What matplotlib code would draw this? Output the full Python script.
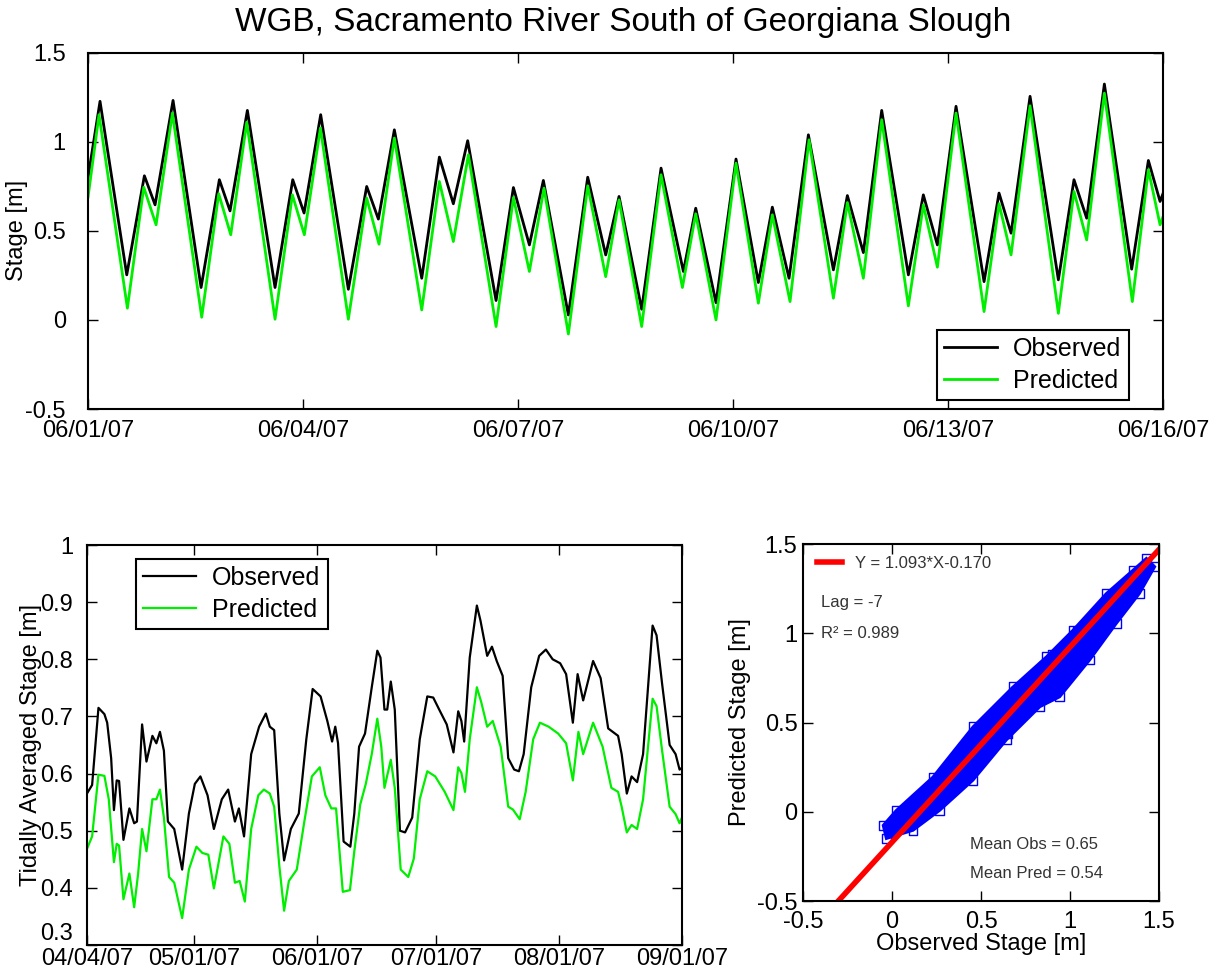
import numpy as np
import matplotlib
matplotlib.use("Agg")
from matplotlib import pyplot as plt

plt.rcParams['font.family'] = ['Liberation Sans', 'DejaVu Sans']

TITLE = "WGB, Sacramento River South of Georgiana Slough"

# 15-minute stage, 06/01/07 - 06/16/07 (days since 06/01 00:00, turning points)
obs_t = [0, 0.167, 0.540, 0.786, 0.935, 1.186, 1.577, 1.832, 1.981, 2.223,
         2.609, 2.856, 3.014, 3.246, 3.632, 3.888, 4.051, 4.274, 4.656, 4.902,
         5.097, 5.297, 5.693, 5.935, 6.158, 6.353, 6.702, 6.972, 7.223, 7.409,
         7.725, 7.995, 8.307, 8.479, 8.762, 9.041, 9.353, 9.548, 9.781, 10.051,
         10.400, 10.595, 10.818, 11.074, 11.446, 11.655, 11.851, 12.111, 12.502, 12.711,
         12.879, 13.144, 13.539, 13.757, 13.934, 14.181, 14.562, 14.795, 14.958, 15.0]
obs_stage = [0.80, 1.227, 0.253, 0.809, 0.646, 1.232, 0.182, 0.787, 0.612, 1.176,
             0.182, 0.787, 0.600, 1.152, 0.172, 0.749, 0.566, 1.067, 0.234, 0.914,
             0.652, 1.006, 0.109, 0.743, 0.421, 0.783, 0.028, 0.801, 0.365, 0.693,
             0.060, 0.852, 0.272, 0.627, 0.097, 0.903, 0.210, 0.633, 0.234, 1.039,
             0.281, 0.698, 0.378, 1.176, 0.253, 0.702, 0.421, 1.199, 0.215, 0.712,
             0.487, 1.255, 0.225, 0.787, 0.571, 1.324, 0.285, 0.895, 0.665, 0.71]
pred_t = [0, 0.153, 0.549, 0.777, 0.949, 1.177, 1.586, 1.823, 1.991, 2.214,
          2.609, 2.851, 3.018, 3.242, 3.632, 3.888, 4.060, 4.274, 4.656, 4.902,
          5.097, 5.307, 5.693, 5.935, 6.158, 6.362, 6.702, 6.972, 7.223, 7.409,
          7.725, 7.995, 8.293, 8.479, 8.762, 9.041, 9.353, 9.548, 9.795, 10.060,
          10.400, 10.595, 10.818, 11.074, 11.446, 11.655, 11.851, 12.111, 12.502, 12.711,
          12.879, 13.144, 13.539, 13.757, 13.934, 14.181, 14.571, 14.795, 14.958, 15.0]
pred_stage = [0.69, 1.152, 0.066, 0.745, 0.534, 1.161, 0.015, 0.708, 0.478, 1.110,
              0.004, 0.702, 0.478, 1.077, 0.004, 0.684, 0.425, 1.021, 0.056, 0.777,
              0.440, 0.927, -0.037, 0.687, 0.272, 0.740, -0.079, 0.753, 0.243, 0.674,
              -0.037, 0.815, 0.182, 0.596, 0.000, 0.880, 0.094, 0.590, 0.103, 1.011,
              0.122, 0.659, 0.234, 1.124, 0.079, 0.646, 0.296, 1.161, 0.047, 0.652,
              0.365, 1.202, 0.037, 0.721, 0.449, 1.273, 0.103, 0.843, 0.534, 0.58]
top_ticks = [0, 3, 6, 9, 12, 15]
top_ticklabels = ["06/01/07", "06/04/07", "06/07/07", "06/10/07", "06/13/07", "06/16/07"]

# tidally averaged stage, days since 04/04/07
avg_obs_t = [0, 1.3, 2.9, 4.4, 5.1, 6.1, 6.8, 7.5, 8.1, 9.2, 10.7, 11.9, 12.6, 13.9,
             15.0, 16.5, 17.5, 18.4, 19.4, 20.4, 22.0, 24.0, 25.7, 27.2, 28.6, 30.4,
             32.0, 34.0, 35.6, 37.3, 38.3, 39.6, 41.4, 43.4, 45.1, 46.1, 47.2, 48.5,
             49.7, 51.4, 53.4, 55.3, 56.9, 58.9, 60.6, 61.8, 62.6, 63.3, 64.7, 66.4,
             67.4, 68.6, 70.1, 71.8, 73.2, 74.0, 75.0, 75.7, 76.6, 77.6, 78.9, 80.2,
             82.0, 83.9, 85.8, 87.3, 88.8, 90.7, 92.4, 93.6, 94.4, 95.1, 96.5, 98.3,
             99.2, 100.9, 102.1, 103.3, 104.8, 106.2, 107.7, 108.9, 110.1, 112.0,
             114.0, 115.7, 117.4, 119.3, 120.8, 122.5, 123.7, 125.1, 127.6, 129.5,
             131.4, 133.9, 134.8, 136.1, 137.3, 138.7, 140.2, 142.6, 143.6, 145.0,
             146.9, 148.4, 149.4, 150.0]
avg_obs = [0.565, 0.58, 0.715, 0.704, 0.689, 0.627, 0.536, 0.588, 0.587, 0.484, 0.539,
           0.513, 0.516, 0.686, 0.621, 0.666, 0.653, 0.673, 0.64, 0.516, 0.503, 0.432,
           0.53, 0.582, 0.595, 0.562, 0.503, 0.555, 0.572, 0.516, 0.539, 0.49, 0.634,
           0.682, 0.705, 0.682, 0.676, 0.53, 0.448, 0.503, 0.53, 0.66, 0.748, 0.735,
           0.692, 0.656, 0.682, 0.653, 0.481, 0.472, 0.53, 0.647, 0.67, 0.751, 0.815,
           0.803, 0.712, 0.712, 0.761, 0.712, 0.5, 0.497, 0.523, 0.66, 0.735, 0.733,
           0.712, 0.686, 0.637, 0.709, 0.692, 0.656, 0.803, 0.894, 0.868, 0.806, 0.822,
           0.797, 0.771, 0.627, 0.607, 0.604, 0.634, 0.751, 0.806, 0.817, 0.8, 0.793,
           0.774, 0.689, 0.774, 0.728, 0.797, 0.767, 0.679, 0.666, 0.634, 0.565, 0.595,
           0.585, 0.634, 0.859, 0.842, 0.757, 0.65, 0.634, 0.607, 0.61]
avg_pred_t = [0, 1.3, 2.9, 4.4, 5.5, 6.8, 7.5, 8.1, 9.2, 10.7, 11.9, 12.9, 13.9, 15.0,
              16.5, 17.5, 18.4, 19.4, 20.7, 22.0, 24.0, 25.7, 27.6, 29.1, 30.6, 32.0,
              34.4, 35.9, 37.3, 38.5, 39.8, 41.4, 43.2, 44.6, 46.1, 47.2, 48.5, 49.7,
              50.9, 52.9, 54.8, 56.7, 58.7, 60.1, 61.6, 62.8, 64.5, 66.3, 67.4, 68.9,
              70.3, 71.8, 73.2, 74.2, 75.0, 76.6, 77.6, 79.1, 81.0, 82.4, 83.9, 85.8,
              87.8, 90.2, 92.4, 93.6, 94.4, 95.3, 96.5, 98.3, 99.4, 100.9, 102.3, 104.3,
              106.2, 107.4, 109.1, 110.6, 112.5, 114.2, 116.4, 118.8, 120.8, 122.5,
              123.9, 125.1, 127.6, 130.0, 132.2, 133.9, 134.8, 136.1, 137.3, 138.7,
              140.2, 142.6, 143.6, 145.0, 146.9, 148.4, 149.4, 150.0]
avg_pred = [0.468, 0.49, 0.598, 0.596, 0.555, 0.445, 0.477, 0.474, 0.38, 0.425, 0.366,
            0.425, 0.503, 0.464, 0.555, 0.555, 0.572, 0.523, 0.419, 0.409, 0.347, 0.432,
            0.472, 0.461, 0.458, 0.399, 0.49, 0.477, 0.409, 0.412, 0.376, 0.503, 0.562,
            0.572, 0.565, 0.542, 0.438, 0.36, 0.412, 0.432, 0.516, 0.595, 0.611, 0.562,
            0.539, 0.539, 0.393, 0.396, 0.464, 0.546, 0.582, 0.634, 0.696, 0.647, 0.575,
            0.624, 0.575, 0.432, 0.419, 0.451, 0.555, 0.604, 0.595, 0.568, 0.536, 0.611,
            0.601, 0.568, 0.66, 0.751, 0.725, 0.682, 0.692, 0.647, 0.542, 0.537, 0.52,
            0.568, 0.66, 0.689, 0.682, 0.67, 0.653, 0.588, 0.673, 0.634, 0.689, 0.647,
            0.575, 0.568, 0.542, 0.497, 0.51, 0.503, 0.555, 0.731, 0.718, 0.64, 0.542,
            0.529, 0.513, 0.523]
avg_ticks = [0, 27, 58, 88, 119, 150]
avg_ticklabels = ["04/04/07", "05/01/07", "06/01/07", "07/01/07", "08/01/07", "09/01/07"]

# outline of the observed/predicted point cloud
cloud_upper_x = [-0.05, 0.024, 0.23, 0.455, 0.68, 0.867, 1.017, 1.204, 1.354, 1.429]
cloud_upper_y = [-0.076, 0.008, 0.195, 0.476, 0.70, 0.868, 1.018, 1.223, 1.354, 1.42]
cloud_lower_x = [-0.032, 0.118, 0.268, 0.455, 0.642, 0.83, 0.942, 1.11, 1.26, 1.39, 1.476]
cloud_lower_y = [-0.15, -0.104, 0.008, 0.177, 0.402, 0.588, 0.644, 0.85, 1.055, 1.223, 1.373]
fit_slope = 1.093
fit_intercept = -0.170
lag = -7
r_squared = 0.989
mean_obs = 0.65
mean_pred = 0.54

BLACK = 'black'
GREEN = '#00ee00'
FS = 17


def style_axes(ax, xpad=4, ypad=4):
    for s in ax.spines.values():
        s.set_linewidth(1.5)
    ax.tick_params(direction='in', top=True, right=True, length=7, width=1,
                   labelsize=FS)
    ax.tick_params(axis='x', pad=xpad)
    ax.tick_params(axis='y', pad=ypad)


def add_legend(ax, loc, anchor):
    leg = ax.legend(loc=loc, bbox_to_anchor=anchor, borderaxespad=0, fontsize=18,
                    fancybox=False, edgecolor='black', framealpha=1,
                    handlelength=2.1, handletextpad=0.65, labelspacing=0.3,
                    borderpad=0.3)
    leg.get_frame().set_linewidth(1.5)


fig = plt.figure(figsize=(12.23, 9.72), dpi=100)
fig.text(0.5098, 1 - 22 / 972, TITLE, ha='center', va='center', fontsize=24)

# tidal stage
ax1 = fig.add_axes([0.072, 0.5792, 0.879, 0.3666])
ax1.plot(obs_t, obs_stage, color=BLACK, lw=2, label='Observed')
ax1.plot(pred_t, pred_stage, color=GREEN, lw=2, label='Predicted')
ax1.set_xlim(0, 15)
ax1.set_ylim(-0.5, 1.5)
ax1.set_xticks(top_ticks)
ax1.set_xticklabels(top_ticklabels)
ax1.set_yticks([-0.5, 0, 0.5, 1, 1.5])
ax1.set_yticklabels(["-0.5", "0", "0.5", "1", "1.5"])
ax1.set_ylabel('Stage [m]', fontsize=FS)
ax1.yaxis.set_label_coords(-0.0557, 0.5)
style_axes(ax1, xpad=8, ypad=16)
add_legend(ax1, 'lower right', (0.968, 0.025))

# tidally averaged stage
ax2 = fig.add_axes([0.0711, 0.0278, 0.4865, 0.4115])
ax2.plot(avg_obs_t, avg_obs, color=BLACK, lw=1.6, label='Observed')
ax2.plot(avg_pred_t, avg_pred, color=GREEN, lw=1.6, label='Predicted')
ax2.set_xlim(0, 150)
ax2.set_ylim(0.3, 1.0)
ax2.set_xticks(avg_ticks)
ax2.set_xticklabels(avg_ticklabels)
ax2.set_yticks([0.3, 0.4, 0.5, 0.6, 0.7, 0.8, 0.9, 1.0])
ax2.set_yticklabels(["0.3", "0.4", "0.5", "0.6", "0.7", "0.8", "0.9", "1"])
ax2.set_ylabel('Tidally Averaged Stage [m]', fontsize=FS)
ax2.yaxis.set_label_coords(-0.076, 0.5)
style_axes(ax2, xpad=2, ypad=10)
ax2.get_yticklabels()[0].set_va('bottom')
add_legend(ax2, 'upper left', (0.082, 0.966))

# observed vs predicted
ax3 = fig.add_axes([0.6566, 0.073, 0.2911, 0.3673])
cloud_x = np.concatenate([cloud_upper_x, cloud_lower_x[::-1]])
cloud_y = np.concatenate([cloud_upper_y, cloud_lower_y[::-1]])
ax3.fill(cloud_x, cloud_y, color='#0000ff', lw=2)
ax3.scatter(cloud_x, cloud_y, marker='s', s=40, facecolors='none',
            edgecolors='#0000ff', linewidths=1)
ax3.scatter(obs_stage, pred_stage, marker='s', s=40, facecolors='none',
            edgecolors='#0000ff', linewidths=1)
ax3.axline((0, fit_intercept), slope=fit_slope, color='#ff0000', lw=4,
           label=f'Y = {fit_slope:.3f}*X{fit_intercept:.3f}')
ax3.set_xlim(-0.5, 1.5)
ax3.set_ylim(-0.5, 1.5)
ticks = [-0.5, 0, 0.5, 1, 1.5]
ticklabels = ["-0.5", "0", "0.5", "1", "1.5"]
ax3.set_xticks(ticks)
ax3.set_xticklabels(ticklabels)
ax3.set_yticks(ticks)
ax3.set_yticklabels(ticklabels)
ax3.set_xlabel('Observed Stage [m]', fontsize=FS, labelpad=0)
ax3.set_ylabel('Predicted Stage [m]', fontsize=FS, labelpad=4)
style_axes(ax3, xpad=7, ypad=4)
ax3.legend(loc='upper left', bbox_to_anchor=(0.02, 0.985), frameon=False,
           fontsize=12, handlelength=1.5, handletextpad=0.8, borderaxespad=0,
           labelcolor='#333333')
txt = dict(transform=ax3.transAxes, fontsize=12, color='#333333', va='center')
ax3.text(0.05, 0.837, f'Lag = {lag}', **txt)
ax3.text(0.05, 0.75, f'R\u00b2 = {r_squared:.3f}', **txt)
ax3.text(0.469, 0.157, f'Mean Obs = {mean_obs:.2f}', **txt)
ax3.text(0.469, 0.078, f'Mean Pred = {mean_pred:.2f}', **txt)

fig.savefig('out.png', dpi=100)
